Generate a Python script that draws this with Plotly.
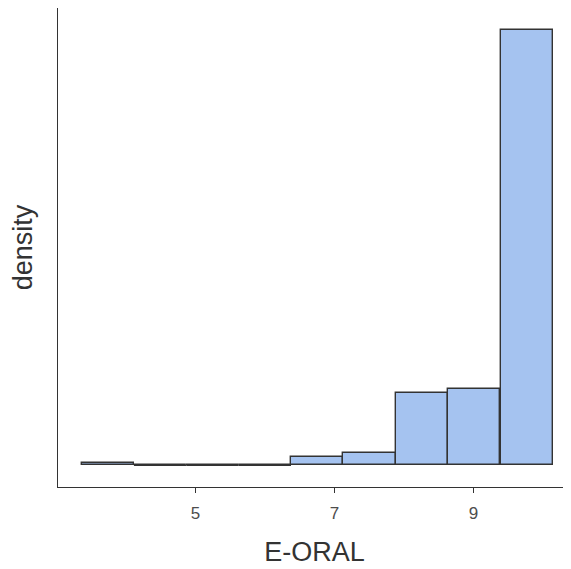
import plotly.graph_objects as go

# Histogram bins (E-ORAL), density values
bin_left = [3.360, 4.113, 4.867, 5.620, 6.374, 7.127, 7.881, 8.634, 9.388]
bin_width = 0.7535
density = [0.0053, 0.0, 0.0, 0.0, 0.0184, 0.0272, 0.1586, 0.1658, 0.953]
x_ticks = [5, 7, 9]

centers = [l + bin_width / 2 for l in bin_left]
fill = "#a5c3f0"
edge = "#333333"

fig = go.Figure()
fig.add_trace(go.Bar(
    x=centers, y=density, width=[bin_width] * len(centers),
    marker=dict(color=fill, line=dict(color=edge, width=1.4)),
    showlegend=False, hoverinfo="x+y",
))
# zero-height bins are drawn by ggplot as a baseline outline
zx, zy = [], []
for l, d in zip(bin_left, density):
    if d == 0:
        zx += [l, l + bin_width, None]
        zy += [0, 0, None]
fig.add_trace(go.Scatter(x=zx, y=zy, mode="lines",
                         line=dict(color=edge, width=1.4),
                         showlegend=False, hoverinfo="skip"))

xmin, xmax = bin_left[0], bin_left[-1] + bin_width
xpad = 0.05 * (xmax - xmin)
ymax = max(density)
ypad = 0.05 * ymax
px_per_unit = 69.5
x0 = xmin - xpad
x1 = x0 + (571 - 58) / px_per_unit

# page body has an 8px default margin
fig.update_layout(
    width=563, height=561,
    margin=dict(l=50, r=0, t=0, b=82),
    paper_bgcolor="white", plot_bgcolor="white",
    font=dict(family="Liberation Sans, Arial, sans-serif", color="#4d4d4d"),
    bargap=0,
    xaxis=dict(
        range=[x0, x1], tickmode="array", tickvals=x_ticks,
        ticks="outside", ticklen=5, tickwidth=1.2, tickcolor="#333333",
        ticklabelstandoff=5,
        showline=True, linecolor="#333333", linewidth=1.3,
        showgrid=False, zeroline=False,
        tickfont=dict(size=17, color="#4d4d4d"),
        title=dict(text="E-ORAL", font=dict(size=27, color="#333333"), standoff=20),
    ),
    yaxis=dict(
        range=[-ypad, ymax + ypad],
        showticklabels=False, ticks="",
        showline=True, linecolor="#333333", linewidth=1.3,
        showgrid=False, zeroline=False,
        title=dict(text="density", font=dict(size=27, color="#333333"), standoff=22),
    ),
)

fig.write_html("out.html")
